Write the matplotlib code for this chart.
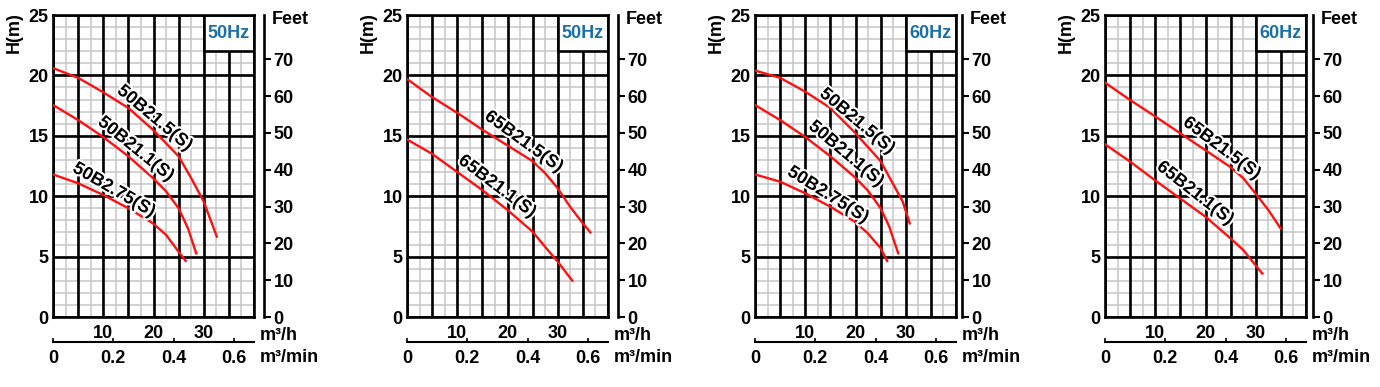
import numpy as np
import matplotlib
matplotlib.use('Agg')
import matplotlib.pyplot as plt
import matplotlib.patheffects as pe
from matplotlib.patches import Rectangle

plt.rcParams['font.family'] = ['Liberation Sans', 'DejaVu Sans']
plt.rcParams['font.weight'] = 'bold'

# == data (flow m3/h, head m) ==
freqs = ['50Hz', '50Hz', '60Hz', '60Hz']

# panel 1 : 50Hz, 50B
q_a1 = [0, 5, 10, 15, 19.9, 25, 27.5, 30, 32.6]
h_a1 = [20.6, 19.8, 18.6, 17.3, 15.5, 13.3, 11.5, 9.55, 6.65]
q_a2 = [0, 5, 10, 15, 19.9, 22.5, 25, 26.9, 28.5]
h_a2 = [17.55, 16.3, 14.9, 13.3, 11.5, 10.4, 9.0, 7.3, 5.27]
q_a3 = [0, 5, 10, 15, 19.9, 22.5, 25, 26.4]
h_a3 = [11.8, 11.07, 10.1, 9.0, 7.75, 6.8, 5.4, 4.64]

# panel 2 : 50Hz, 65B
q_b1 = [0, 5, 10, 15, 20, 25, 27.5, 30, 32.5, 35, 36.5]
h_b1 = [19.7, 18.2, 16.9, 15.5, 14.2, 12.9, 11.9, 10.65, 9.1, 7.75, 7.0]
q_b2 = [0, 5, 10, 15, 20, 25, 27.5, 30, 32.9]
h_b2 = [14.7, 13.5, 12.0, 10.5, 8.86, 7.06, 5.8, 4.58, 3.0]

# panel 3 : 60Hz, 50B
q_c1 = [0, 5, 10, 15, 19.8, 22.4, 25, 27.4, 29.4, 30.8]
h_c1 = [20.4, 19.8, 18.65, 17.3, 15.3, 14.1, 12.9, 11.07, 9.55, 7.75]
q_c2 = [0, 5, 10, 15, 19.8, 22.4, 25, 26.7, 28.5]
h_c2 = [17.55, 16.3, 14.9, 13.3, 11.6, 10.5, 9.0, 7.5, 5.27]
q_c3 = [0, 5, 10, 15, 19.8, 22.4, 25, 26.3]
h_c3 = [11.8, 11.2, 10.24, 9.13, 7.9, 6.95, 5.7, 4.64]

# panel 4 : 60Hz, 65B
q_d1 = [0, 5, 10, 15, 20, 25, 27.5, 30, 32.5, 35]
h_d1 = [19.4, 17.96, 16.6, 15.2, 13.8, 12.4, 11.5, 10.2, 8.86, 7.3]
q_d2 = [0, 5, 10, 15, 20, 25, 27.5, 31.3]
h_d2 = [14.3, 12.86, 11.3, 9.8, 8.3, 6.5, 5.55, 3.6]

curves = [
    [(q_a1, h_a1), (q_a2, h_a2), (q_a3, h_a3)],
    [(q_b1, h_b1), (q_b2, h_b2)],
    [(q_c1, h_c1), (q_c2, h_c2), (q_c3, h_c3)],
    [(q_d1, h_d1), (q_d2, h_d2)],
]
# label text, x, y, rotation
labels = [
    [('50B21.5(S)', 20.2, 16.45, -40), ('50B21.1(S)', 16.45, 13.9, -39), ('50B2.75(S)', 12.1, 10.5, -30)],
    [('65B21.5(S)', 23.2, 14.5, -36), ('65B21.1(S)', 17.9, 10.8, -37)],
    [('50B21.5(S)', 20.3, 16.2, -40), ('50B21.1(S)', 18.1, 13.5, -40), ('50B2.75(S)', 14.5, 10.1, -32)],
    [('65B21.5(S)', 23.2, 13.96, -37), ('65B21.1(S)', 17.9, 10.24, -38)],
]

# layout in pixels
W, H = 1380, 387
lefts = [53, 407, 755, 1105]
width = 201
top, bottom = 15, 317
feet_off = [10, 10, 6, 7]

fig = plt.figure(figsize=(W / 100, H / 100), dpi=100)
fs = 13

for i in range(4):
    ax = fig.add_axes([lefts[i] / W, (H - bottom) / H, width / W, (bottom - top) / H])
    ax.set_xlim(0, 40)
    ax.set_ylim(0, 25)
    ax.set_xticks([10, 20, 30])
    ax.set_yticks(np.arange(0, 26, 5))
    ax.tick_params(which='both', length=0)
    ax.tick_params(axis='x', pad=6, labelsize=fs)
    ax.tick_params(axis='y', pad=3, labelsize=fs)

    # grid
    ax.vlines(np.arange(0, 41, 2.5), 0, 25, color='#c6c6c6', lw=1.1, zorder=0.5)
    ax.hlines(np.arange(0, 26, 1), 0, 40, color='#c6c6c6', lw=1.1, zorder=0.5)
    ax.vlines(np.arange(0, 41, 5), 0, 25, color='black', lw=1.9, zorder=1)
    ax.hlines(np.arange(0, 26, 5), 0, 40, color='black', lw=1.9, zorder=1)
    for s in ax.spines.values():
        s.set_linewidth(1.9)

    # Hz box
    ax.add_patch(Rectangle((30, 22), 10, 3, facecolor='white', edgecolor='black', lw=1.9, zorder=2))
    ax.text(35, 23.5, freqs[i], color='#1a6fa8', fontsize=fs, fontweight='bold',
            ha='center', va='center', zorder=3)

    for q, h in curves[i]:
        ax.plot(q, h, color='#ff1010', lw=1.7, zorder=4, solid_joinstyle='round')
    for txt, x, y, rot in labels[i]:
        ax.text(x, y, txt, rotation=rot, rotation_mode='anchor', ha='center', va='center',
                fontsize=fs, fontweight='bold', zorder=5,
                path_effects=[pe.withStroke(linewidth=3, foreground='white')])

    ax.annotate('H(m)', xy=(0, 1), xycoords='axes fraction', xytext=(-39, -18),
                textcoords='offset pixels', rotation=90, ha='center', va='center',
                fontsize=fs, fontweight='bold')

    # feet axis
    fx = ax.secondary_yaxis(1 + feet_off[i] / width, functions=(lambda m: m / 0.3048, lambda f: f * 0.3048))
    fx.set_yticks(np.arange(0, 71, 10))
    fx.tick_params(length=5, width=1.5, pad=2, labelsize=fs)
    fx.spines['right'].set_linewidth(1.9)
    ax.annotate('Feet', xy=(1, 1), xycoords='axes fraction', xytext=(feet_off[i] + 8, -5),
                textcoords='offset pixels', ha='left', va='center', fontsize=fs, fontweight='bold')

    # m3/min axis
    mx = ax.secondary_xaxis(-25 / (bottom - top), functions=(lambda h: h / 60, lambda m: m * 60))
    mx.set_xticks([0, 0.2, 0.4, 0.6])
    mx.set_xticklabels(['0', '0.2', '0.4', '0.6'])
    mx.tick_params(direction='in', length=3, width=1.2, pad=6, labelsize=fs)
    mx.spines['bottom'].set_linewidth(1.5)

    ax.annotate('m³/h', xy=(1, 0), xycoords='axes fraction', xytext=(6, -18),
                textcoords='offset pixels', ha='left', va='center', fontsize=fs, fontweight='bold')
    ax.annotate('m³/min', xy=(1, 0), xycoords='axes fraction', xytext=(6, -41),
                textcoords='offset pixels', ha='left', va='center', fontsize=fs, fontweight='bold')

fig.savefig('out.png', dpi=100)
